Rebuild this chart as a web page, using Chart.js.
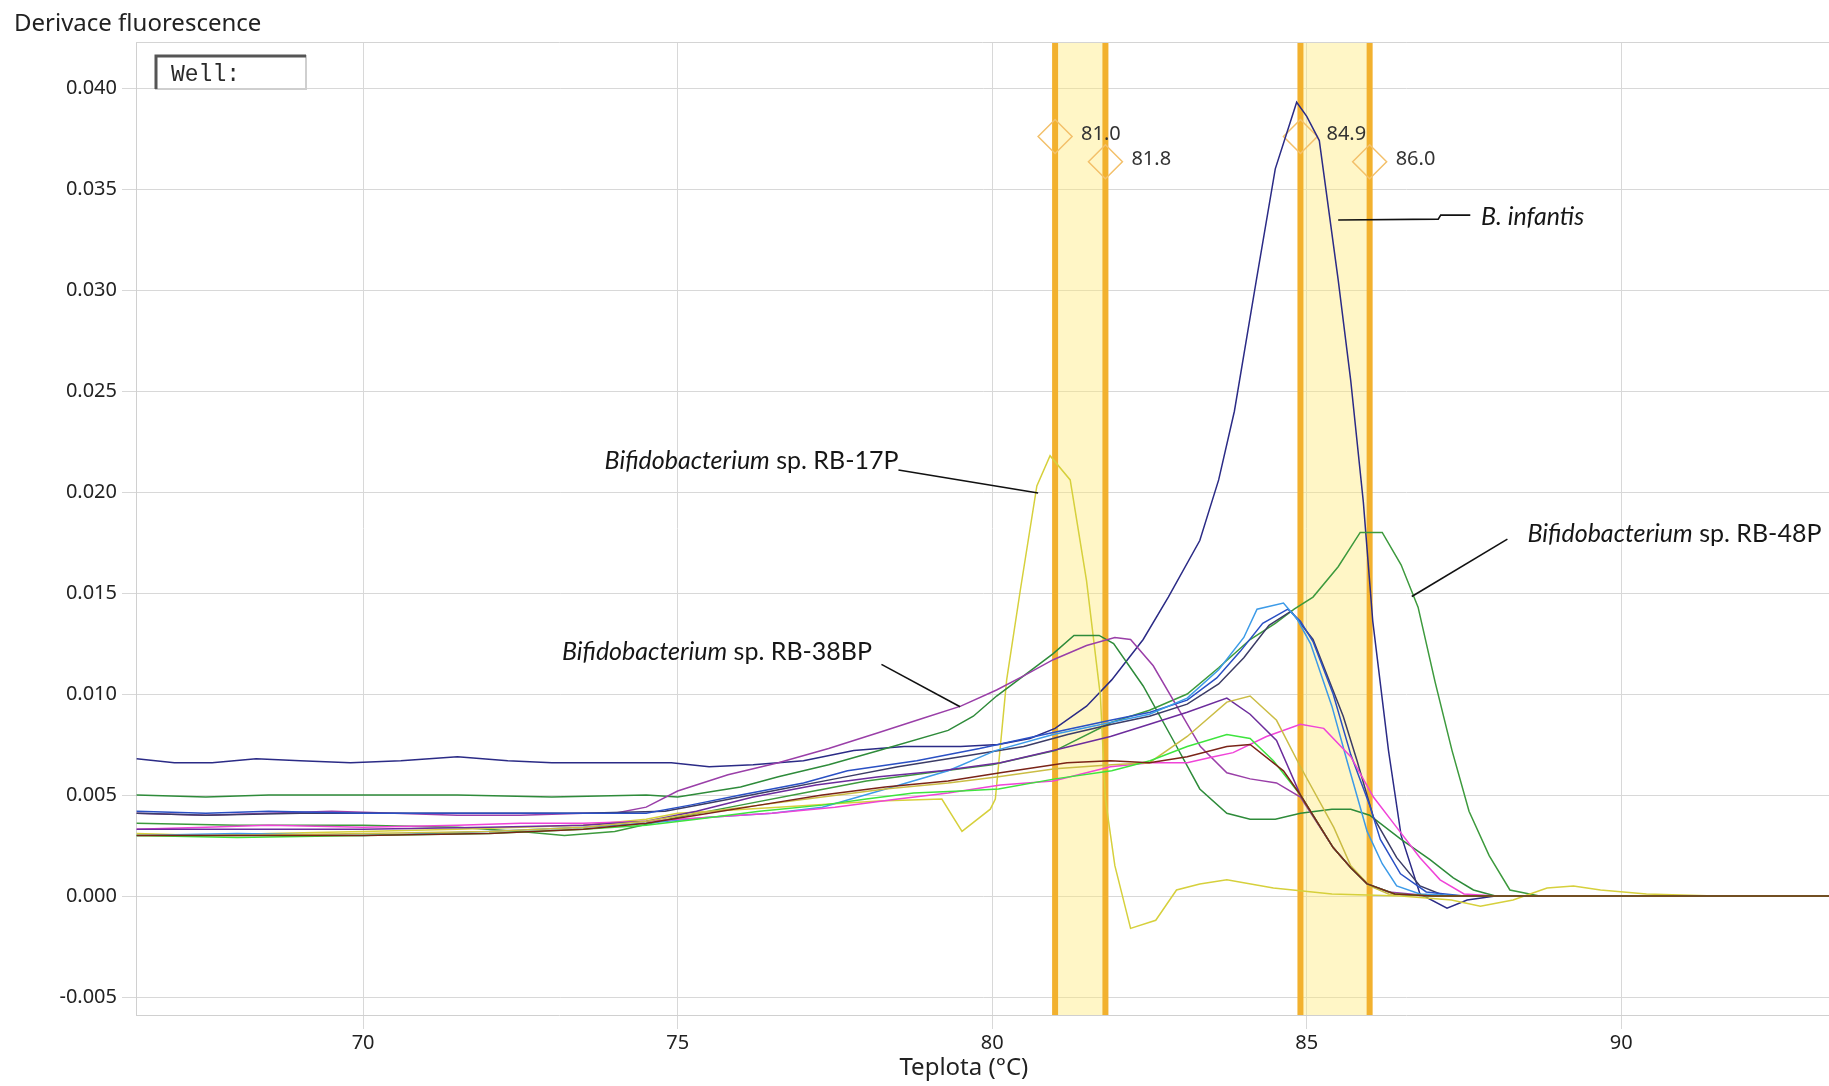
<!DOCTYPE html>
<html>
<head>
<meta charset="utf-8">
<script src="https://cdn.jsdelivr.net/npm/chart.js@4.4.0/dist/chart.umd.min.js"></script>
<style>
  html, body { margin: 0; padding: 0; background: #fff; overflow: hidden; }
  #wrap { width: 1829px; height: 1086px; overflow: hidden; }
</style>
</head>
<body>
<div id="wrap"><canvas id="meltChart" width="1848" height="1086"></canvas></div>
<script>
// melt curves: [temperature °C, -dF/dT]
const infantis = [[66.4,.0068],[67.0,.0066],[67.6,.0066],[68.3,.0068],[69.0,.0067],[69.8,.0066],[70.6,.0067],[71.5,.0069],[72.3,.0067],[73.0,.0066],[74.0,.0066],[74.9,.0066],[75.5,.0064],[76.2,.0065],[77.0,.0067],[77.8,.0072],[78.6,.0074],[79.5,.0074],[80.1,.0075],[80.6,.0078],[81.0,.0083],[81.5,.0094],[81.9,.0107],[82.4,.0127],[82.8,.0148],[83.3,.0176],[83.6,.0206],[83.85,.0240],[84.2,.0305],[84.5,.0360],[84.84,.0393],[85.0,.0386],[85.2,.0374],[85.5,.0305],[85.7,.0255],[85.9,.0195],[86.05,.0136],[86.3,.0072],[86.5,.0030],[86.8,.0001],[87.23,-.0006],[87.55,-.0002],[88.0,0],[93.5,0]];
const rb48 = [[66.4,.0036],[68,.0035],[70,.0035],[71.5,.0034],[72.5,.0032],[73.2,.0030],[74.0,.0032],[75.0,.0039],[76.0,.0045],[77.0,.0051],[78.0,.0057],[79.0,.0061],[80.0,.0065],[81.0,.0072],[81.9,.0086],[82.5,.0092],[83.1,.0100],[83.6,.0113],[84.1,.0127],[84.5,.0135],[84.8,.0142],[85.1,.0148],[85.5,.0163],[85.85,.0180],[86.2,.0180],[86.5,.0164],[86.77,.0143],[87.04,.0106],[87.31,.0072],[87.58,.0042],[87.9,.0020],[88.23,.0003],[88.7,0],[93.5,0]];
const green13 = [[66.4,.0050],[67.5,.0049],[68.5,.0050],[70,.0050],[71.5,.0050],[73,.0049],[74.5,.0050],[75.0,.0049],[76.0,.0054],[76.6,.0059],[77.4,.0065],[78.2,.0072],[79.3,.0082],[79.7,.0089],[80.07,.0099],[80.5,.0109],[80.97,.0120],[81.3,.0129],[81.7,.0129],[81.93,.0125],[82.4,.0104],[82.88,.0077],[83.3,.0053],[83.73,.0041],[84.1,.0038],[84.5,.0038],[84.9,.0041],[85.4,.0043],[85.7,.0043],[86.0,.0040],[86.5,.0028],[86.96,.0018],[87.33,.0009],[87.65,.0003],[88.0,0],[93.5,0]];
const rb38 = [[66.4,.0041],[67.5,.0040],[68.5,.0041],[69.5,.0042],[70.5,.0041],[71.5,.0040],[72.5,.0040],[73.5,.0041],[74.0,.0041],[74.5,.0044],[75.0,.0052],[75.8,.0060],[76.6,.0066],[77.4,.0073],[78.2,.0081],[78.9,.0088],[79.5,.0094],[80.07,.0102],[80.5,.0109],[80.97,.0117],[81.5,.0124],[81.95,.0128],[82.2,.0127],[82.56,.0114],[82.99,.0091],[83.31,.0074],[83.73,.0061],[84.1,.0058],[84.52,.0056],[84.9,.0049],[85.42,.0024],[85.7,.0014],[85.96,.0006],[86.3,.0002],[87.0,0],[93.5,0]];
const rb17 = [[66.4,.0031],[67.5,.0030],[68.5,.0031],[70,.0032],[71.5,.0033],[72.5,.0034],[73.5,.0035],[74.5,.0038],[75.0,.0041],[76.6,.0044],[78.2,.0047],[79.2,.0048],[79.52,.0032],[79.97,.0043],[80.05,.0048],[80.23,.0107],[80.45,.0152],[80.71,.0203],[80.92,.0218],[81.24,.0206],[81.5,.0156],[81.72,.0099],[81.8,.0048],[81.95,.0015],[82.2,-.0016],[82.6,-.0012],[82.93,.0003],[83.3,.0006],[83.73,.0008],[84.47,.0004],[85.4,.0001],[86.5,0],[87.3,-.0002],[87.76,-.0005],[88.28,-.0002],[88.82,.0004],[89.24,.0005],[89.67,.0003],[90.4,.0001],[91.5,0],[93.5,0]];
const olive = [[66.4,.0030],[68,.0030],[70,.0031],[72,.0032],[73.5,.0034],[74.5,.0037],[75.3,.0041],[76.3,.0045],[77.3,.0049],[78.3,.0053],[79.3,.0056],[80.1,.0059],[81.0,.0063],[81.9,.0065],[82.5,.0066],[83.1,.0079],[83.73,.0096],[84.1,.0099],[84.52,.0087],[84.9,.0064],[85.43,.0034],[85.7,.0015],[86.0,.0005],[86.3,.0001],[87.0,0],[93.5,0]];
const lightblue = [[66.4,.0030],[68,.0031],[70,.0030],[72,.0032],[73.5,.0034],[74.5,.0036],[75.5,.0039],[76.5,.0041],[77.3,.0044],[78.2,.0052],[79.3,.0062],[80.05,.0072],[80.97,.0080],[81.9,.0086],[82.5,.0090],[83.1,.0098],[83.6,.0112],[84.0,.0128],[84.21,.0142],[84.63,.0145],[84.85,.0137],[85.06,.0125],[85.4,.0094],[85.64,.0067],[85.96,.0032],[86.2,.0016],[86.43,.0005],[86.8,.0001],[87.5,0],[93.5,0]];
const blue = [[66.4,.0042],[67.5,.0041],[68.5,.0042],[70,.0041],[71.5,.0041],[73,.0041],[74.5,.0041],[75.2,.0045],[76,.0050],[77,.0056],[77.7,.0062],[78.8,.0067],[79.8,.0073],[80.97,.0081],[81.88,.0087],[82.51,.0091],[83.1,.0097],[83.57,.0108],[83.94,.0121],[84.3,.0135],[84.7,.0142],[84.9,.0136],[85.1,.0126],[85.42,.0100],[85.7,.0070],[86.0,.0045],[86.17,.0028],[86.49,.0011],[86.9,.0002],[87.5,0],[93.5,0]];
const darkgray = [[66.4,.0041],[67.5,.0040],[69,.0041],[70.5,.0041],[72,.0041],[73.5,.0041],[74.8,.0042],[75.5,.0046],[76.5,.0052],[77.5,.0058],[78.5,.0064],[79.5,.0069],[80.5,.0074],[81.2,.0080],[81.9,.0085],[82.5,.0089],[83.1,.0095],[83.6,.0105],[84.0,.0118],[84.4,.0134],[84.75,.0141],[84.95,.0133],[85.1,.0127],[85.58,.0089],[85.8,.0067],[86.06,.0039],[86.43,.0019],[86.8,.0005],[87.2,0],[93.5,0]];
const violet = [[66.4,.0033],[68,.0033],[70,.0033],[72,.0034],[73.5,.0035],[74.5,.0037],[75.3,.0042],[76.2,.0049],[77.2,.0055],[78.2,.0059],[79.2,.0062],[80.13,.0066],[80.97,.0072],[81.88,.0079],[82.5,.0085],[83.1,.0091],[83.73,.0098],[84.1,.0090],[84.52,.0077],[84.9,.0050],[85.42,.0024],[85.7,.0014],[85.96,.0006],[86.4,.0001],[87,0],[93.5,0]];
const magenta = [[66.4,.0033],[67.5,.0034],[68.5,.0035],[70,.0034],[71.5,.0035],[72.5,.0036],[73.5,.0036],[74.5,.0037],[75.5,.0039],[76.5,.0041],[77.5,.0044],[78.5,.0048],[79.3,.0051],[80.13,.0055],[80.97,.0057],[81.88,.0064],[82.51,.0066],[83.1,.0066],[83.52,.0069],[83.83,.0071],[84.36,.0079],[84.9,.0085],[85.27,.0083],[85.7,.0069],[86.06,.0049],[86.43,.0034],[86.8,.0019],[87.12,.0008],[87.5,.0001],[88,0],[93.5,0]];
const brightgreen = [[66.4,.0030],[68,.0029],[70,.0030],[72,.0031],[73.5,.0033],[74.5,.0035],[75.3,.0038],[76.3,.0042],[77.3,.0045],[78.0,.0048],[78.75,.0051],[79.5,.0052],[80.1,.0053],[81.0,.0058],[81.9,.0062],[82.51,.0067],[83.1,.0074],[83.73,.0080],[84.1,.0078],[84.47,.0067],[84.9,.0050],[85.42,.0024],[85.7,.0014],[85.96,.0006],[86.4,.0001],[87,0],[93.5,0]];
const brown = [[66.4,.0030],[68,.0030],[70,.0030],[72,.0031],[73.5,.0033],[74.5,.0036],[75.3,.0040],[76.3,.0045],[77.3,.0050],[78.3,.0054],[79.3,.0057],[80.13,.0061],[81.19,.0066],[81.88,.0067],[82.5,.0066],[83.1,.0069],[83.73,.0074],[84.1,.0075],[84.63,.0062],[84.9,.0050],[85.42,.0024],[85.7,.0014],[85.96,.0006],[86.4,.0001],[87,0],[93.5,0]];

// melt peak markers (bars + diamonds)
const bandEdges = [[81.0, 81.8], [84.9, 86.0]];
const peakTemps = [81.0, 81.8, 84.9, 86.0];
const peakMarks = [0.0376, 0.03635, 0.0376, 0.03635];
const peakLabels = ['81.0', '81.8', '84.9', '86.0'];

const xTicks = [70, 75, 80, 85, 90];

const FONT = "'Noto Sans', 'DejaVu Sans', sans-serif";
const NOTE_FONT = "Lato, 'Open Sans', sans-serif";

const curves = [
    { pts: brown, color: '#7a2418' },
    { pts: brightgreen, color: '#3ee43e' },
    { pts: olive, color: '#cbbd45' },
    { pts: violet, color: '#6c2c9c' },
    { pts: magenta, color: '#f044d8' },
    { pts: lightblue, color: '#3d9be8' },
    { pts: blue, color: '#2a50c4' },
    { pts: darkgray, color: '#3c3c66' },
    { pts: rb38, color: '#9a3fa8' },
    { pts: green13, color: '#2e8b3a' },
    { pts: rb17, color: '#d6d03c' },
    { pts: rb48, color: '#3d9a3d' },
    { pts: infantis, color: '#2b2b86' },
];

// callouts, positioned in data units
const notes = [
    { italic: 'Bifidobacterium', plain: ' sp. RB-17P', x: 78.51, y: 0.02154, align: 'right',
      line: [[78.51, 0.02109], [80.73, 0.01995]] },
    { italic: 'Bifidobacterium', plain: ' sp. RB-38BP', x: 78.09, y: 0.01209, align: 'right',
      line: [[78.24, 0.01147], [79.49, 0.00937]] },
    { italic: 'B. infantis', plain: '', x: 87.77, y: 0.03361, align: 'left',
      line: [[85.50, 0.03347], [87.09, 0.03351], [87.13, 0.03371], [87.6, 0.03371]] },
    { italic: 'Bifidobacterium', plain: ' sp. RB-48P', x: 88.51, y: 0.01792, align: 'left',
      line: [[88.19, 0.01767], [86.67, 0.01483]] },
];

const overlayPlugin = {
    id: 'overlay',
    beforeDatasetsDraw(chart) {
        const { ctx, chartArea, scales } = chart;
        ctx.save();
        bandEdges.forEach(([a, b]) => {
            const x1 = scales.x.getPixelForValue(a);
            const x2 = scales.x.getPixelForValue(b);
            ctx.fillStyle = 'rgba(255, 234, 120, 0.42)';
            ctx.fillRect(x1, chartArea.top, x2 - x1, chartArea.bottom - chartArea.top);
            ctx.strokeStyle = '#f2b12e';
            ctx.lineWidth = 6;
            [x1, x2].forEach(x => {
                ctx.beginPath();
                ctx.moveTo(x, chartArea.top);
                ctx.lineTo(x, chartArea.bottom);
                ctx.stroke();
            });
        });
        ctx.restore();
    },
    afterDatasetsDraw(chart) {
        const { ctx, scales } = chart;
        const px = v => scales.x.getPixelForValue(v);
        const py = v => scales.y.getPixelForValue(v);
        ctx.save();
        // peak value labels
        ctx.font = `20px ${FONT}`;
        ctx.fillStyle = '#333';
        ctx.textBaseline = 'middle';
        peakTemps.forEach((t, i) => {
            ctx.fillText(peakLabels[i], px(t) + 26, py(peakMarks[i]) - 2);
        });
        // callouts
        ctx.strokeStyle = '#111';
        ctx.lineWidth = 1.6;
        notes.forEach(n => {
            ctx.beginPath();
            n.line.forEach(([x, y], i) => {
                if (i === 0) ctx.moveTo(px(x), py(y)); else ctx.lineTo(px(x), py(y));
            });
            ctx.stroke();
            const itFont = `italic 25px ${NOTE_FONT}`;
            const plFont = `25px ${NOTE_FONT}`;
            ctx.font = itFont;
            const wi = ctx.measureText(n.italic).width;
            ctx.font = plFont;
            const wp = ctx.measureText(n.plain).width;
            let x0 = px(n.x);
            if (n.align === 'right') x0 -= wi + wp;
            const y0 = py(n.y);
            ctx.fillStyle = '#161616';
            ctx.textAlign = 'left';
            ctx.font = itFont;
            ctx.fillText(n.italic, x0, y0);
            ctx.font = plFont;
            ctx.fillText(n.plain, x0 + wi, y0);
        });
        ctx.restore();
    },
    afterDraw(chart) {
        const { ctx, chartArea, scales } = chart;
        ctx.save();
        // top border of plot
        ctx.strokeStyle = '#d4d4d4';
        ctx.lineWidth = 1;
        ctx.beginPath();
        ctx.moveTo(chartArea.left, chartArea.top + 0.5);
        ctx.lineTo(chartArea.right, chartArea.top + 0.5);
        ctx.stroke();
        // y title
        ctx.fillStyle = '#222';
        ctx.font = `24px ${FONT}`;
        ctx.textBaseline = 'middle';
        ctx.fillText('Derivace fluorescence', 14, 24);
        // x title
        ctx.textAlign = 'center';
        ctx.fillText('Teplota (°C)', scales.x.getPixelForValue(79.55), 1068);
        // Well: box
        const bx = chartArea.left + 20, by = chartArea.top + 14, bw = 150, bh = 33;
        ctx.fillStyle = '#fff';
        ctx.fillRect(bx, by, bw, bh);
        ctx.strokeStyle = '#cfcfcf';
        ctx.lineWidth = 2;
        ctx.strokeRect(bx, by, bw, bh);
        ctx.strokeStyle = '#555';
        ctx.lineWidth = 3;
        ctx.beginPath();
        ctx.moveTo(bx, by + bh);
        ctx.lineTo(bx, by);
        ctx.lineTo(bx + bw, by);
        ctx.stroke();
        ctx.fillStyle = '#2a2a2a';
        ctx.textAlign = 'left';
        ctx.font = `23px 'Liberation Mono', 'DejaVu Sans Mono', monospace`;
        ctx.fillText('Well:', bx + 15, by + bh / 2 + 2);
        ctx.restore();
    }
};

const datasets = curves.map(c => ({
    data: c.pts.map(([x, y]) => ({ x, y })),
    borderColor: c.color,
    borderWidth: 1.5,
    pointRadius: 0,
    pointHoverRadius: 0,
    tension: 0,
    fill: false,
}));

datasets.push({
    data: peakTemps.map((t, i) => ({ x: t, y: peakMarks[i] })),
    showLine: false,
    pointStyle: 'rectRot',
    pointRadius: 17,
    pointHoverRadius: 17,
    pointBorderWidth: 1.5,
    pointBorderColor: '#f3c06a',
    pointBackgroundColor: 'rgba(0,0,0,0)',
    borderColor: '#f3c06a',
});

const ctx = document.getElementById('meltChart').getContext('2d');
new Chart(ctx, {
    type: 'line',
    data: { datasets },
    plugins: [overlayPlugin],
    options: {
        responsive: false,
        animation: false,
        events: [],
        layout: { padding: { top: 42, right: 0, bottom: 0, left: 0 } },
        plugins: {
            legend: { display: false },
            tooltip: { enabled: false },
        },
        scales: {
            x: {
                type: 'linear',
                min: 66.39,
                max: 93.31,
                afterFit: s => { s.height = 71; },
                afterBuildTicks: s => { s.ticks = xTicks.map(v => ({ value: v })); },
                ticks: {
                    color: '#222',
                    padding: 2,
                    font: { family: FONT, size: 20 },
                    maxRotation: 0,
                },
                grid: { color: '#d8d8d8', tickLength: 14 },
                border: { color: '#d0d0d0' },
            },
            y: {
                min: -0.00589,
                max: 0.04228,
                afterFit: s => { s.width = 136; },
                ticks: {
                    stepSize: 0.005,
                    includeBounds: false,
                    color: '#222',
                    padding: 5,
                    font: { family: FONT, size: 20 },
                    callback: v => v.toFixed(3),
                },
                grid: { color: '#d8d8d8', tickLength: 14 },
                border: { color: '#d0d0d0' },
            },
        },
    },
});
</script>
</body>
</html>
